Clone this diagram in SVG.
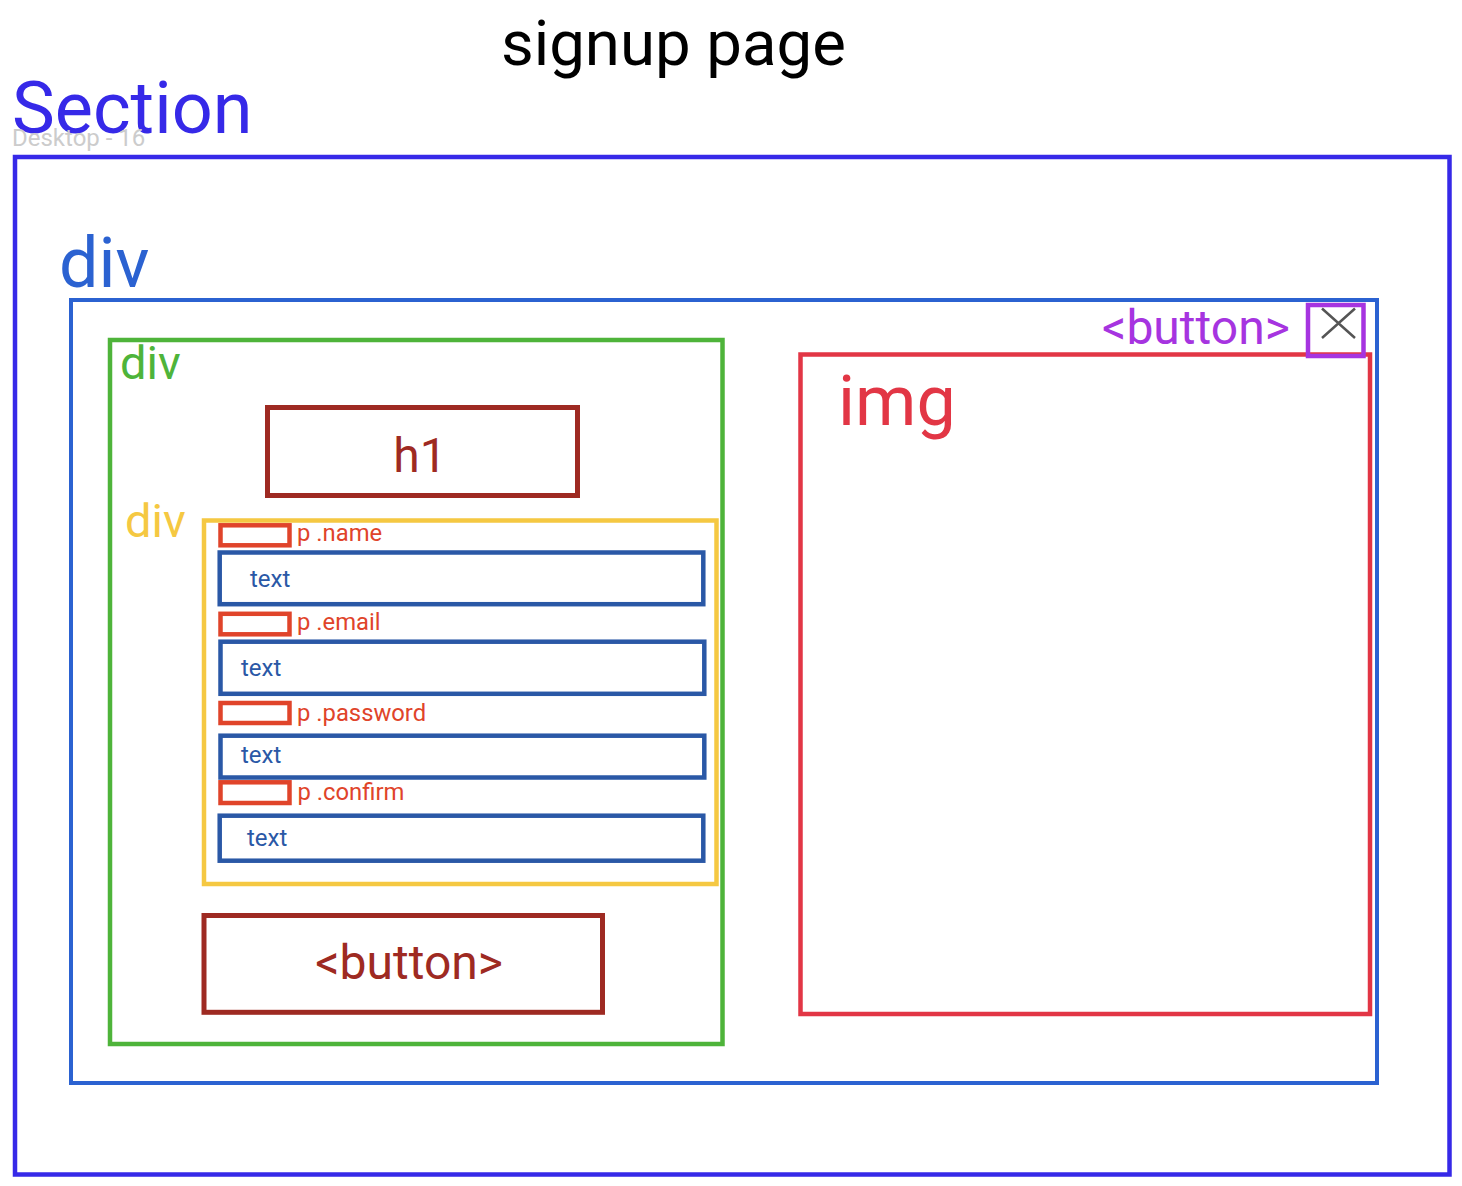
<svg xmlns="http://www.w3.org/2000/svg" width="1462" height="1186" viewBox="0 0 1462 1186">
<style>
text{font-family:Roboto,"Liberation Sans",sans-serif}
rect{fill:none}
.sec{stroke:#3629e8;stroke-width:4.5}
.bdiv{stroke:#2b62d1;stroke-width:4}
.gdiv{stroke:#4eb43a;stroke-width:4.5}
.ydiv{stroke:#f5c842;stroke-width:4.5}
.brown{stroke:#9e2a22;stroke-width:5}
.img{stroke:#e23645;stroke-width:4.5}
.pbtn{stroke:#a634e0;stroke-width:4.5}
.plab{stroke:#e0442a;stroke-width:4.5}
.inp{stroke:#2a58a6;stroke-width:4.5}
.small{fill:#e0442a;font-size:23.8px}
.itext{fill:#2a58a6;font-size:24px}
</style>
<rect x="0" y="0" width="1462" height="1186" style="fill:#fff"/>
<text x="501" y="65" style="font-size:63.5px;fill:#000">signup page</text>
<g id="section">
<text x="12" y="133" style="font-size:72px;fill:#3629e8">Section</text>
<text x="12" y="146" style="font-size:24px;fill:#cccccc">Desktop - 16</text>
<rect class="sec" x="15" y="157" width="1434.5" height="1017.5"/>
</g>
<g id="outer-div">
<text x="59" y="287" style="font-size:70px;fill:#2b62d1">div</text>
<rect class="bdiv" x="71" y="300" width="1306" height="783"/>
</g>
<g id="form-div">
<text x="120" y="379" style="font-size:47px;fill:#4eb43a">div</text>
<rect class="gdiv" x="110" y="340" width="612.5" height="704"/>
</g>
<g id="h1">
<rect class="brown" x="267.5" y="407.5" width="310" height="88"/>
<text x="420" y="472" text-anchor="middle" style="font-size:48px;fill:#9e2a22">h1</text>
</g>
<g id="fields-div">
<text x="125" y="537" style="font-size:47px;fill:#f5c842">div</text>
<rect class="ydiv" x="204" y="520.5" width="512.5" height="363.5"/>
</g>
<g id="p-name">
<rect class="plab" x="220.5" y="525.3" width="69" height="20"/>
<text class="small" x="297" y="541">p .name</text>
</g>
<g id="input-name">
<rect class="inp" x="219.7" y="552.5" width="483.6" height="51.7"/>
<text class="itext" x="250" y="587">text</text>
</g>
<g id="p-email">
<rect class="plab" x="220.5" y="613.8" width="69" height="20.5"/>
<text class="small" x="297" y="630">p .email</text>
</g>
<g id="input-email">
<rect class="inp" x="220.5" y="641.7" width="483.8" height="52.1"/>
<text class="itext" x="241" y="676">text</text>
</g>
<g id="p-password">
<rect class="plab" x="220.5" y="703" width="69" height="20"/>
<text class="small" x="297" y="721">p .password</text>
</g>
<g id="input-password">
<rect class="inp" x="220.5" y="735.7" width="483.8" height="41.8"/>
<text class="itext" x="241" y="763">text</text>
</g>
<g id="p-confirm">
<rect class="plab" x="220.5" y="782.3" width="69" height="20.7"/>
<text class="small" x="297.5" y="800">p .confirm</text>
</g>
<g id="input-confirm">
<rect class="inp" x="219.7" y="815.7" width="483.6" height="45"/>
<text class="itext" x="247" y="846">text</text>
</g>
<g id="submit-button">
<rect class="brown" x="204" y="915.5" width="398.5" height="96.8"/>
<text x="409" y="979" text-anchor="middle" style="font-size:48px;fill:#9e2a22">&lt;button&gt;</text>
</g>
<g id="img">
<rect class="img" x="800.5" y="354.5" width="569.5" height="659.5"/>
<text x="838" y="425" style="font-size:70px;fill:#e23645">img</text>
</g>
<g id="close-button">
<text x="1102" y="344" style="font-size:48px;fill:#a634e0">&lt;button&gt;</text>
<rect class="pbtn" x="1308" y="305" width="55.5" height="51"/>
<path d="M1322 308.5L1355 338M1355 308.5L1322 338" style="stroke:#555;stroke-width:2.5;fill:none"/>
</g>
<g id="connectors"/>
</svg>
